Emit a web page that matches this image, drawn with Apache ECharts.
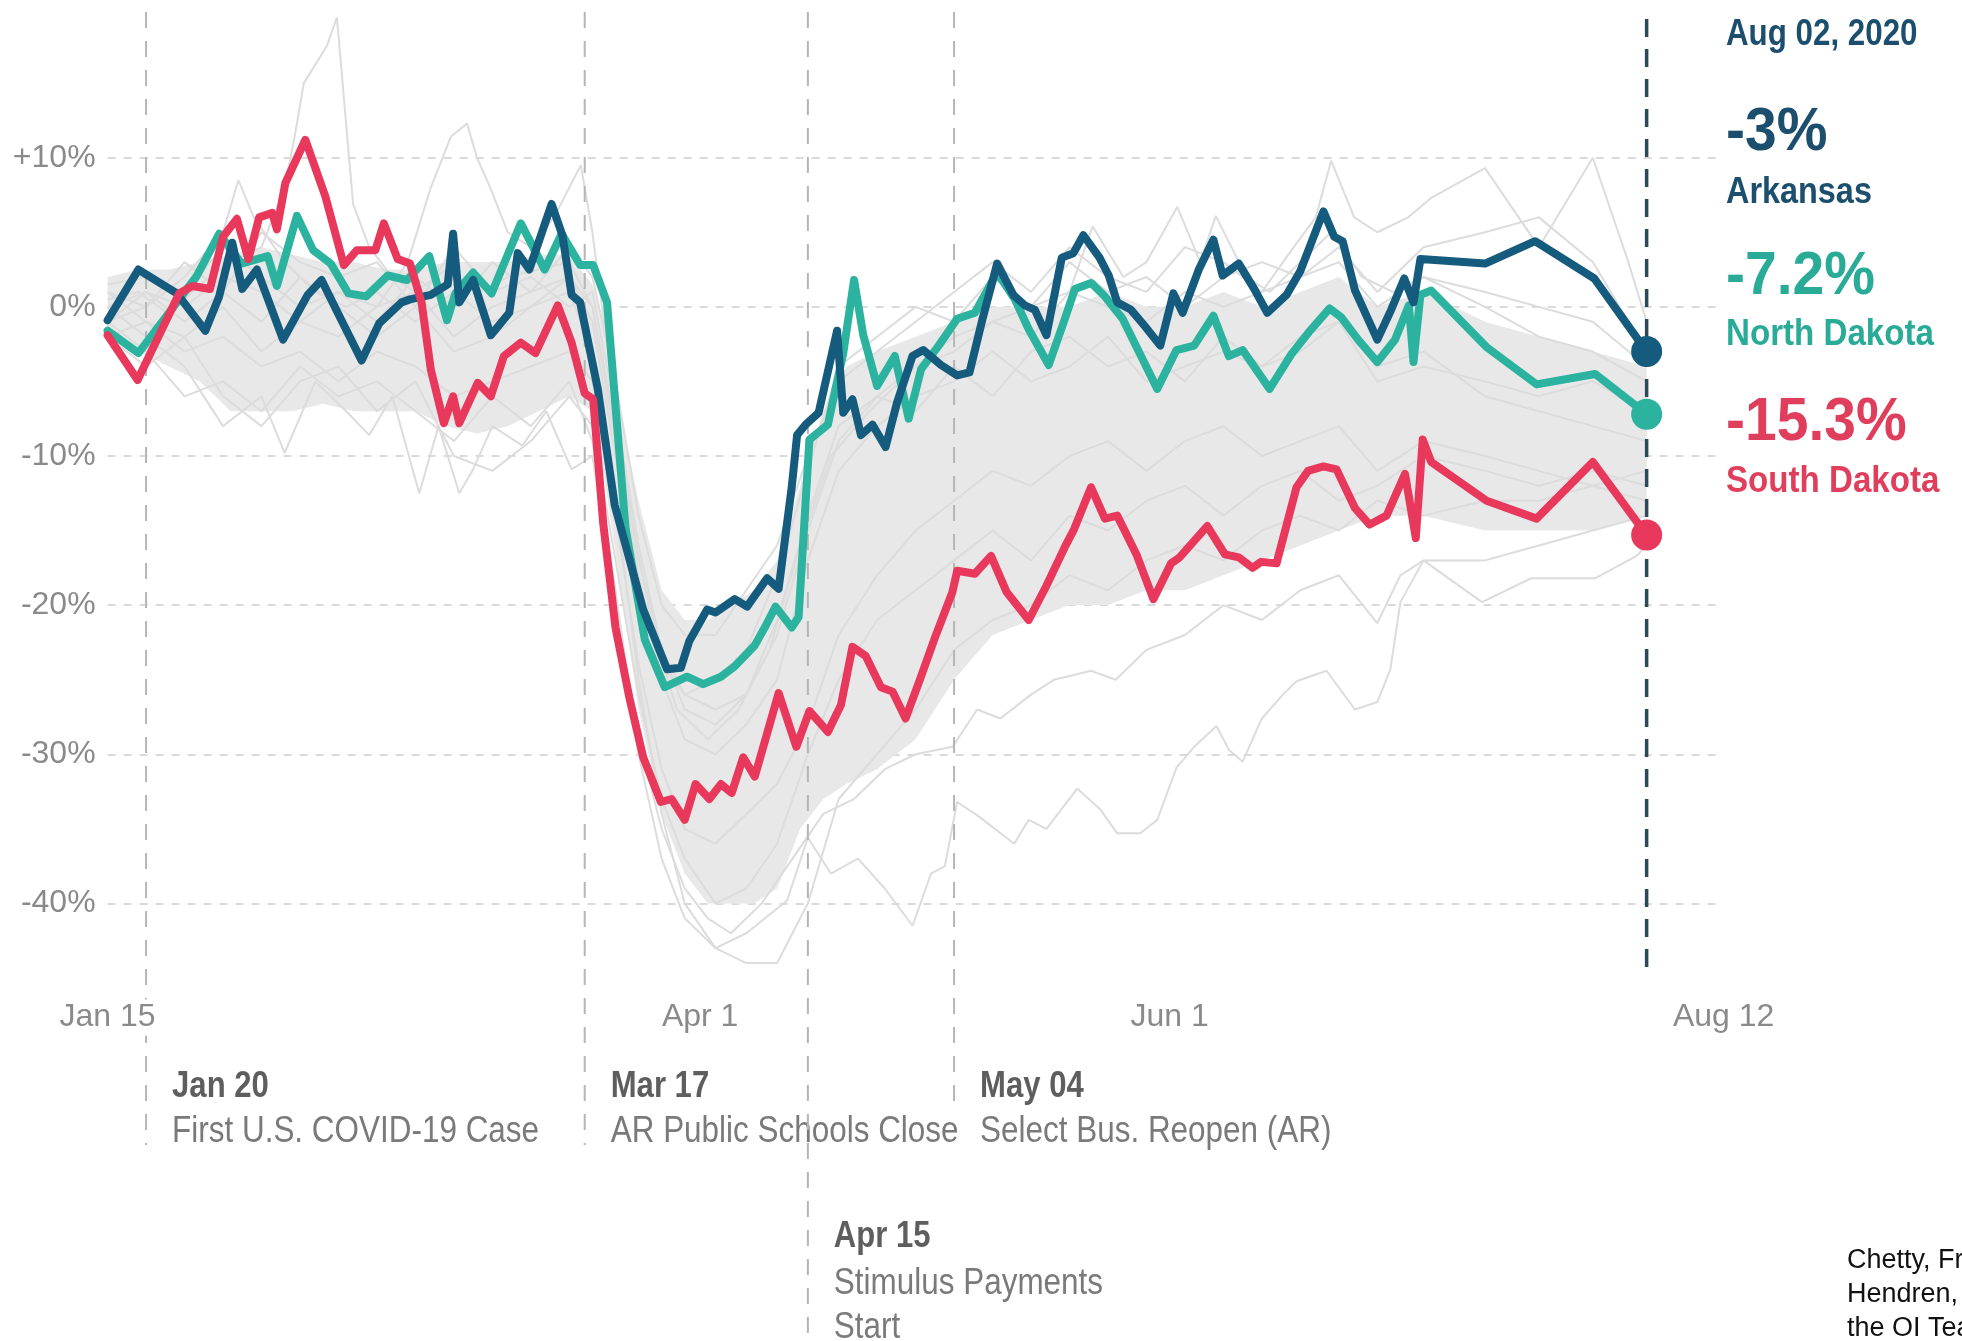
<!DOCTYPE html>
<html><head><meta charset="utf-8">
<script src="https://cdn.jsdelivr.net/npm/echarts@6/dist/echarts.min.js"></script>
<style>html,body{margin:0;padding:0;background:#fff}#c{width:1962px;height:1341px}</style>
</head><body><div id="c"></div><script>
// ---------- DATA (day of year 2020, % change) ----------
const xTickDays = [15, 92, 153, 225];
const xTickLabels = ['Jan 15', 'Apr 1', 'Jun 1', 'Aug 12'];
const yTicks = [-40, -30, -20, -10, 0, 10];
const latestDate = 'Aug 02, 2020';

const arkansas = [[15,-0.9],[19,2.5],[24,0.9],[27.7,-1.6],[29.5,0.7],[31.2,4.3],[32.5,1.2],[34.4,2.5],[37.8,-2.2],[41,0.8],[42.8,1.8],[45,-0.5],[48,-3.6],[50.3,-1.1],[53.2,0.3],[54.3,0.5],[57,0.8],[59.2,1.5],[59.9,4.9],[60.7,0.3],[62.5,1.8],[64.8,-1.9],[67.2,-0.4],[68.3,3.6],[69.8,2.5],[72.7,6.9],[74.1,4.8],[75.3,0.8],[76.4,0.3],[78.7,-5.5],[80.9,-13.3],[84.6,-20.3],[87.7,-24.3],[89.5,-24.2],[90.6,-22.4],[92.9,-20.3],[94,-20.5],[96.5,-19.6],[98.1,-20.1],[100.7,-18.2],[102.2,-18.9],[103.9,-12.1],[104.6,-8.6],[105.7,-7.9],[107.4,-7.1],[109.8,-1.6],[110.6,-7.1],[111.8,-6.2],[112.9,-8.6],[114.4,-7.9],[116.1,-9.4],[117.6,-6.4],[119.6,-3.3],[121,-2.9],[123.3,-3.9],[125.4,-4.6],[127,-4.4],[128.7,-0.8],[130.6,2.9],[132.7,0.8],[134.2,0.1],[135.5,-0.2],[137,-1.9],[139,3.3],[140.5,3.6],[141.8,4.8],[143.9,3.3],[145.1,2.1],[146.2,0.3],[148,-0.2],[149.8,-1.3],[151.8,-2.6],[153.5,0.9],[154.7,-0.4],[156.8,2.5],[158.7,4.5],[159.9,2.1],[162,2.9],[164,1.2],[165.7,-0.4],[168.2,0.8],[170,2.4],[173,6.4],[174.4,4.7],[175.5,4.4],[177.1,1.1],[180,-2.2],[181.8,-0.2],[183.5,1.9],[184.7,0.3],[185.6,3.2],[194,2.9],[200.5,4.4],[208.2,1.9],[215,-3.0]];

const northDakota = [[15,-1.6],[19,-3.1],[24,0.3],[26.5,2],[29.5,4.9],[32.4,2.9],[35.8,3.4],[37,1.4],[39.6,6.1],[41.7,3.8],[44,2.9],[46.3,0.9],[48.6,0.7],[51.4,2.1],[53.9,1.8],[56.8,3.4],[59.1,-0.9],[60.2,0.9],[62.5,2.3],[64.9,0.9],[68.7,5.6],[71.8,2.5],[74,4.9],[76.4,2.8],[78.1,2.8],[79.9,0.3],[82.3,-14.8],[84.8,-22.3],[87.4,-25.5],[90.3,-24.8],[92.4,-25.3],[94.7,-24.8],[96.5,-24.1],[99.1,-22.7],[100.5,-21.4],[101.8,-20.1],[103.9,-21.5],[104.8,-20.8],[106.2,-8.9],[108.6,-7.9],[110.6,-3.1],[112,1.8],[113.2,-1.9],[115,-5.3],[117.3,-3.3],[119.1,-7.5],[120.7,-4.2],[123,-2.6],[125.4,-0.8],[127.7,-0.4],[130.6,2.3],[132.9,0.5],[134.7,-1.5],[137.3,-3.9],[139.4,-0.8],[140.7,1.2],[142.8,1.6],[144.6,0.7],[146.9,-0.8],[149.1,-3.1],[151.4,-5.5],[153.9,-2.9],[156.2,-2.6],[158.7,-0.6],[160.7,-3.3],[162.5,-2.9],[166,-5.5],[168.8,-3.2],[171.1,-1.7],[173.8,-0.1],[175.3,-0.7],[177.5,-2.2],[180,-3.7],[182.3,-2.2],[184.1,0.1],[184.7,-3.7],[185.6,0.8],[187,1.1],[194.2,-2.7],[200.7,-5.2],[208.3,-4.5],[215,-7.2]];

const southDakota = [[15,-1.9],[18.9,-4.9],[24.3,0.9],[26,1.4],[28.3,1.2],[30,4.7],[31.8,5.9],[33.3,3.2],[34.7,6.0],[36.4,6.3],[37,5.2],[38.1,8.3],[40.7,11.2],[43.3,7.4],[45.7,2.8],[47.4,3.8],[49.8,3.8],[50.9,5.6],[52.7,3.2],[54.3,2.9],[55.8,0.3],[57,-4.2],[58.7,-7.8],[59.9,-6],[60.7,-7.8],[63.1,-5.1],[64.8,-6],[66.5,-3.3],[68.7,-2.4],[70.6,-3.1],[73.5,0.1],[75.3,-2.4],[77,-5.8],[78.1,-6.2],[79.4,-14.5],[81,-21.5],[82.8,-26.2],[84.6,-30.2],[86.9,-33.2],[88.3,-33],[90,-34.4],[91.4,-32],[93.2,-33],[94.7,-32],[96.1,-32.6],[97.6,-30.2],[99.1,-31.5],[102.2,-25.9],[104.5,-29.5],[106.2,-27.1],[108.6,-28.5],[110.3,-26.7],[111.8,-22.8],[113.5,-23.4],[115.5,-25.5],[117,-25.8],[118.7,-27.6],[120.7,-24.8],[122.5,-22.2],[124.8,-19.1],[125.4,-17.7],[127.7,-17.9],[129.8,-16.7],[131.8,-19.1],[134.7,-21],[137,-18.7],[139.4,-16.1],[140.6,-14.9],[142.8,-12.1],[144.6,-14.2],[146.2,-14],[148.7,-16.6],[150.9,-19.6],[153.2,-17.2],[154.3,-16.8],[157.9,-14.7],[160.2,-16.6],[162,-16.8],[163.8,-17.5],[164.9,-17.1],[166.9,-17.2],[169.5,-12.1],[171,-11],[173,-10.7],[174.7,-10.9],[177.1,-13.5],[179,-14.6],[181.2,-14],[183.6,-11.2],[185,-15.5],[185.9,-8.9],[187,-10.4],[194.2,-13],[200.7,-14.2],[208,-10.4],[215,-15.3]];

// dense band of the other states
const bandDays = [15,19,23,27,31,35,39,43,47,51,55,59,63,67,71,75,78,80,82,84,87,90,93,96,99,102,105,108,111,115,120,125,130,135,140,145,150,155,160,165,170,175,180,186,194,201,208,215];
const bandHigh = [2,2.5,2.5,3,3.5,4,3.5,3,3,2.5,2.5,3,3,3,3.5,3.5,1.5,-2,-8,-13,-19,-21,-21,-20,-19,-17,-12,-7,-4,-3,-2,-1,0,0,0,1,0,0,1,0,1,2,0,1,-1,-2,-3,-4];
const bandLow  = [-2,-3,-4,-5,-7,-7,-7,-6.5,-7,-7,-7,-8,-8.5,-8,-7,-6,-7,-13,-20,-27,-34,-38,-40,-40,-40,-39,-35,-33,-32,-31,-29,-25,-22,-21,-20,-20,-19,-19,-18,-17,-16,-15,-14,-14,-15,-15,-15,-14];

// individual grey state lines
const gray1 = [[15,0.5],[19,1],[23,-0.5],[27,1.5],[31,3],[35,4],[38,8],[39.3,11.4],[40.5,15],[41.7,16],[43.5,17.5],[44.8,19.4],[46.9,6.9],[49,4],[52,2],[55,1],[59,2.5],[63,1],[67,2],[71,2.5],[75,3],[78,0],[81,-9],[84,-18],[87,-25],[90,-29],[94,-30],[98,-28],[102,-25],[106,-17],[110,-11],[115,-8],[120,-6],[125,-5],[130,-3],[135,-5],[140,-4],[145,-2],[150,-5],[155,-4],[160,-3],[165,-4],[170,-2],[175,-1],[180,-4],[186,-3],[194,-6],[201,-7],[208,-8],[215,-9]];
const gray2 = [[15,1],[20,-1],[25,-2],[30,0],[35,-3],[40,-1],[45,-2],[50,0],[54,3],[57,8],[59.6,11.4],[61.7,12.3],[63,10],[64.8,7.9],[67,5],[70,4],[73,6],[76.5,9.5],[78,5],[80,-3],[83,-14],[86,-22],[89,-27],[93,-29],[97,-27],[101,-23],[105,-16],[109,-10],[114,-7],[120,-4],[125,-3],[130,-1],[135,-2],[140,1],[143,5.4],[147,2],[150,3],[154,6.7],[157,3],[159,6.1],[163,2],[166,1],[170,3],[174,5],[178,2],[182,1],[186,2],[194,0],[201,-2],[208,-3],[215,-5]];
const gray3 = [[15,-1],[20,0],[25,2],[30,5],[32,8.5],[34,6],[38,3],[42,1],[46,0],[50,1],[55,-1],[60,1],[65,-1],[70,0],[75,2],[78,0],[81,-8],[84,-17],[87,-23],[90,-26],[94,-27],[98,-26],[102,-22],[106,-15],[110,-9],[115,-6],[120,-4],[125,-2],[130,-1],[135,0],[140,1],[145,0],[150,-1],[155,1],[160,0],[165,1],[169,3.9],[172,6],[174,9.8],[177,6],[180,5],[184,6],[187,7.3],[194,9.3],[201,4],[208,10],[212.5,3.2],[215,-1]];
const gray4 = [[15,-1],[20,-3],[25,-6],[30,-5],[35,-7],[40,-4],[45,-6],[50,-5],[55,-7],[60,-9],[65,-6],[70,-8],[75,-5],[78,-9],[81,-19],[84,-30],[87,-37],[90,-41],[94,-43],[98,-42],[103.3,-39.8],[106,-35.6],[109,-38],[112.5,-37],[116,-39],[119.6,-41.5],[122,-38],[123.8,-37.5],[125.4,-33.2],[128.3,-34.2],[132.8,-36],[134.7,-34.4],[137,-35],[141,-32.3],[144,-33.7],[146.2,-35.3],[149.2,-35.3],[151.4,-34.4],[153.9,-30.9],[156.2,-29.5],[159.1,-28.1],[160.7,-29.7],[162.5,-30.5],[165,-27.6],[167.9,-25.9],[169.5,-25.1],[173.4,-24.4],[177.1,-27],[180,-26.5],[181.7,-24.3],[183,-19.8],[186,-17],[193.6,-19.8],[200,-18.2],[208.3,-18.2],[213.7,-16.7],[215,-16]];
const gray5 = [[15,0],[20,-2],[25,-4],[30,-8],[35,-6],[38,-9.8],[42,-5],[46,-7],[49,-8.6],[52,-6],[55.5,-12.5],[58,-8],[60.7,-12.5],[62.5,-10.9],[65,-8],[68.9,-9.3],[72,-7],[75.3,-10.9],[78,-10],[81,-20],[84,-29],[87,-35],[90,-39],[93,-41],[96,-42],[100,-40],[104,-37],[108,-34],[112,-33],[116,-31],[120,-30],[124.8,-29.5],[128,-27],[131,-27.6],[135,-26],[138,-25],[142.8,-24.4],[146,-25],[150,-23],[155,-22],[160,-20],[165,-21],[170,-19],[175,-18],[180,-21.2],[183,-18],[186,-17],[194,-17],[201,-16],[208,-15],[215,-14]];
const gray6 = [[15,-2],[20,-1],[25,-3],[30,-2],[35,-4],[40,-3],[45,-5],[50,-3],[55,-4],[60,-6],[65,-5],[70,-4],[75,-3],[78,-5],[81,-14],[84,-24],[87,-31],[90,-35],[94,-36],[98,-34],[102,-32],[106,-28],[110,-22],[115,-18],[120,-15],[125,-13],[130,-11],[135,-12],[140,-10],[145,-9],[150,-11],[155,-9],[160,-8],[165,-10],[170,-9],[175,-8],[180,-11],[186,-9],[194,-10],[201,-11],[208,-12],[215,-13]];
const gray7 = [[15,1.5],[20,2],[25,1],[30,4],[35,2],[40,0],[45,1],[50,-1],[55,2],[60,0],[65,3],[70,1],[75,4],[78,2],[81,-5],[84,-14],[87,-20],[90,-22],[94,-22],[98,-19],[102,-16],[106,-10],[110,-5],[115,-3],[120,-1],[125,1],[130,3],[135,1],[140,4],[145,2],[150,1],[155,4],[160,3],[165,1],[170,2],[175,3],[180,0],[186,2],[194,1],[201,0],[208,-1],[215,-4]];
const gray8 = [[15,-2],[20,-4],[25,-2],[30,-6],[35,-8],[40,-5],[45,-4],[50,-7],[55,-5],[60,-10],[65,-11],[70,-9],[75,-6],[78,-8],[81,-17],[84,-26],[87,-33],[90,-37],[94,-40],[98,-39],[102,-36],[106,-30],[110,-25],[115,-21],[120,-19],[125,-17],[130,-15],[135,-17],[140,-14],[145,-15],[150,-13],[155,-12],[160,-14],[165,-12],[170,-11],[175,-13],[180,-12],[186,-10],[194,-11],[201,-12],[208,-11],[215,-12]];
const gray9 = [[15,0],[20,1],[25,-1],[30,1],[35,-1],[40,2],[45,0],[50,-2],[55,0],[60,-3],[65,-2],[70,0],[75,1],[78,-3],[81,-13],[84,-25],[87,-34],[90,-40],[94,-43],[98,-44],[102,-44],[106,-40],[110,-33],[115,-30],[120,-27],[125,-23],[130,-21],[135,-20],[140,-18],[145,-19],[150,-17],[155,-16],[160,-17],[165,-15],[170,-14],[175,-15],[180,-13],[186,-14],[194,-13],[201,-13],[208,-12],[215,-11]];
const gray10 = [[15,1],[20,0],[25,3],[30,1],[35,5],[40,3],[45,2],[50,3],[55,0],[60,4],[65,1],[70,2],[75,0],[78,1],[81,-7],[84,-16],[87,-23],[90,-27],[94,-28],[98,-26],[102,-21],[106,-14],[110,-8],[115,-6],[120,-7],[125,-4],[130,-6],[135,-3],[140,-2],[145,-4],[150,-3],[155,-5],[160,-2],[165,-4],[170,-3],[175,-1],[180,-5],[186,-4],[194,-5],[201,-6],[208,-5],[215,-7]];
const gray11 = [[15,-1],[20,1],[25,0],[30,2],[35,1],[40,-1],[45,1],[50,0],[55,1],[60,-2],[65,0],[70,1],[75,2],[78,-1],[81,-10],[84,-19],[87,-24],[90,-26],[94,-25],[98,-23],[102,-18],[106,-11],[110,-4],[115,-2],[120,0],[125,-1],[130,2],[135,0],[140,3],[145,1],[150,2],[155,0],[160,2],[165,3],[170,2],[175,4],[180,1],[186,4],[194,5],[201,6],[208,3],[215,-3]];

// events
const eventDays  = [20, 77, 106, 125];
const eventDates = ['Jan 20', 'Mar 17', 'Apr 15', 'May 04'];
const eventNotes = ['First U.S. COVID-19 Case', 'AR Public Schools Close', 'Stimulus Payments\nStart', 'Select Bus. Reopen (AR)'];
const latestDay = 215;

const states = ['Arkansas', 'North Dakota', 'South Dakota'];

// ---------- STYLE ----------
const FONT = "'Liberation Sans',sans-serif";
const C_AR = '#145b7d', C_ND = '#2bb39f', C_SD = '#e8385b';
const T_AR = '#1c4f6e', T_ND = '#2aab97', T_SD = '#df3f5c';
const GRAY = '#dcdcdc';
const EV_TOP = 12;
const EV_BOTTOM = [1145, 1145, 1341, 1113];
const EV_DATE_Y = [1087, 1087, 1237, 1087];
const EV_NOTE_Y = [1110, 1110, 1262, 1110];

const fmtPct = v => (v > 0 ? '+' : '') + v + '%';

const chart = echarts.init(document.getElementById('c'), null, {renderer: 'canvas'});

const grays = [gray1, gray2, gray3, gray4, gray5, gray6, gray7, gray8, gray9, gray10, gray11];
const series = [];

series.push({
  type: 'custom', z: 1, silent: true, clip: false,
  data: [[15, 0]],
  renderItem: (p, api) => {
    const pts = [];
    for (let i = 0; i < bandDays.length; i++) pts.push(api.coord([bandDays[i], bandHigh[i]]));
    for (let i = bandDays.length - 1; i >= 0; i--) pts.push(api.coord([bandDays[i], bandLow[i]]));
    return {type: 'polygon', shape: {points: pts}, style: {fill: '#e8e8e8'}};
  }
});

grays.forEach(g => series.push({
  type: 'line', data: g, z: 2, silent: true, clip: false, symbol: 'none',
  lineStyle: {color: GRAY, width: 2}
}));

series.push({
  type: 'custom', z: 3, silent: true, clip: false,
  data: eventDays.map(d => [d, 0]),
  renderItem: (p, api) => {
    const i = p.dataIndex;
    const x = api.coord([eventDays[i], 0])[0];
    return {type: 'group', children: [
      {type: 'line', shape: {x1: x, y1: EV_TOP, x2: x, y2: EV_BOTTOM[i]},
       style: {stroke: '#b5b5b5', lineWidth: 2, lineDash: [16, 13]}},
      {type: 'text', x: x + 26, y: EV_DATE_Y[i], scaleX: 0.84,
       style: {text: eventDates[i], fill: '#5e5e5e', font: 'bold 37px ' + FONT, verticalAlign: 'middle'}},
      {type: 'text', x: x + 26, y: EV_NOTE_Y[i], scaleX: 0.85,
       style: {text: eventNotes[i], fill: '#7a7a7a', font: '37px ' + FONT, verticalAlign: 'top', lineHeight: 44}}
    ]};
  }
});

series.push({
  type: 'custom', z: 3, silent: true, clip: false,
  data: [[latestDay, 0]],
  renderItem: (p, api) => {
    const x = api.coord([latestDay, 0])[0];
    return {type: 'line', shape: {x1: x, y1: 19, x2: x, y2: 972},
      style: {stroke: '#2d4858', lineWidth: 3.5, lineDash: [18, 12]}};
  }
});

[[northDakota, C_ND, 4], [arkansas, C_AR, 5], [southDakota, C_SD, 6]].forEach(([d, c, z]) => series.push({
  type: 'line', data: d, z: z, silent: true, clip: false, symbol: 'none',
  lineStyle: {color: c, width: 8, cap: 'round', join: 'round'}
}));

const lastPts = [arkansas, northDakota, southDakota].map(s => s[s.length - 1]);
series.push({
  type: 'scatter', z: 8, silent: true, clip: false, symbolSize: 31,
  data: lastPts.map((p, i) => ({value: p, itemStyle: {color: [C_AR, C_ND, C_SD][i], opacity: 1}}))
});

const TX = 1726;
const rightTexts = [
  {t: latestDate, y: 35, c: T_AR, f: 'bold 36px ' + FONT, s: 0.87},
  {t: fmtPct(lastPts[0][1]), y: 133, c: T_AR, f: 'bold 62px ' + FONT, s: 0.92},
  {t: states[0], y: 193, c: T_AR, f: 'bold 36px ' + FONT, s: 0.9},
  {t: fmtPct(lastPts[1][1]), y: 277, c: T_ND, f: 'bold 62px ' + FONT, s: 0.92},
  {t: states[1], y: 335, c: T_ND, f: 'bold 36px ' + FONT, s: 0.92},
  {t: fmtPct(lastPts[2][1]), y: 423, c: T_SD, f: 'bold 62px ' + FONT, s: 0.92},
  {t: states[2], y: 482, c: T_SD, f: 'bold 36px ' + FONT, s: 0.92},
];
const credit = ['Chetty, Friedman,', 'Hendren, Stepner, and', 'the OI Team'];
const graphic = rightTexts.map(r => ({
  type: 'text', x: TX, y: r.y, scaleX: r.s, silent: true,
  style: {text: r.t, fill: r.c, font: r.f, verticalAlign: 'middle'}
})).concat(credit.map((t, i) => ({
  type: 'text', x: 1847, y: 1261 + i * 34, silent: true,
  style: {text: t, fill: '#111', font: "27px 'Liberation Sans',sans-serif", verticalAlign: 'middle'}
})));

chart.setOption({
  animation: false,
  backgroundColor: '#fff',
  grid: {left: 107.6, right: 238.4, top: 157.7, bottom: 437.6, containLabel: false, outerBoundsMode: 'none'},
  xAxis: {
    type: 'value', min: 15, max: 225, z: 10,
    axisLine: {show: false}, axisTick: {show: false}, splitLine: {show: false},
    axisLabel: {
      customValues: xTickDays,
      formatter: v => xTickLabels[xTickDays.indexOf(v)],
      margin: 96, fontSize: 32, fontFamily: FONT, color: '#8a8a8a',
      backgroundColor: '#fff', padding: [2, 4]
    }
  },
  yAxis: {
    type: 'value', min: yTicks[0], max: yTicks[yTicks.length - 1], interval: 10,
    axisLine: {show: false}, axisTick: {show: false},
    splitLine: {show: true, lineStyle: {color: '#dadada', width: 2, type: [8, 8]}},
    axisLabel: {formatter: fmtPct, fontSize: 32, fontFamily: FONT, color: '#8a8a8a', margin: 12}
  },
  series: series,
  graphic: graphic
});
</script></body></html>
